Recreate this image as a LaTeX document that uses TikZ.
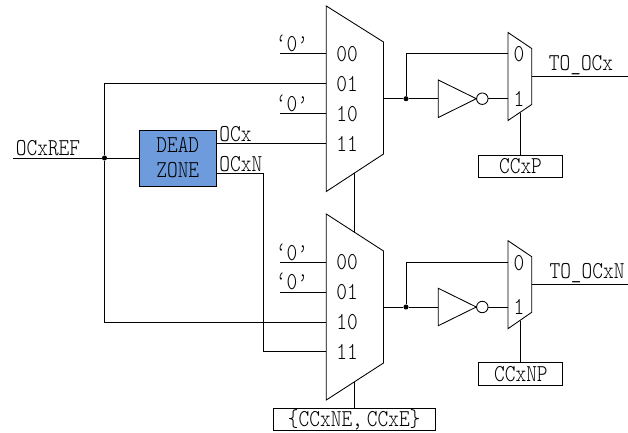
\documentclass[tikz,border=0pt]{standalone}
\usepackage{fontspec}
\usetikzlibrary{calc}
\setmonofont[FakeStretch=0.84]{Latin Modern Mono Light}
\definecolor{deadblue}{RGB}{109,155,219}

\begin{document}
\begin{tikzpicture}[x=0.75pt, y=-0.75pt, line width=0.65pt,
    font=\ttfamily\fontsize{18.2}{18.75}\selectfont,
    lbl/.style={inner sep=0pt},
    ctrlbox/.style={draw, inner sep=0pt, minimum height=16.7pt},
    dot/.style={circle, fill, inner sep=0pt, minimum size=3.8pt},
    bubble/.style={circle, draw, inner sep=0pt, minimum size=8.6pt}]
  \useasboundingbox (0,0) rectangle (628,432);

  % big selectors
  \draw (326.3,6) coordinate (muxatop) -- (383.5,42) -- (383.5,154) coordinate (muxasr) -- (326.3,191.5) coordinate (muxasl) -- cycle;
  \draw (326.3,214) -- (383.5,251) coordinate (muxbtr) -- (383.5,363) coordinate (muxbsr) -- (326.3,400) coordinate (muxbsl) -- cycle;
  \coordinate (linka) at ($(muxasl)!0.5!(muxasr)$);
  \coordinate (linkb) at (linka |- 0,232.5);
  \coordinate (selb) at ($(muxbsl)!0.5!(muxbsr)$);

  % small selectors
  \draw (508,32.5) -- (531.7,48.5) -- (531.7,104.5) -- (508,120.5) -- cycle;
  \draw (508,240.7) -- (531.7,256.7) -- (531.7,312.3) -- (508,328.7) -- cycle;

  % inverters
  \draw (438.3,80) -- (476.3,98.7) coordinate (invat) -- (438.3,117.5) -- cycle;
  \draw (438.3,288.3) -- (476.3,307) coordinate (invbt) -- (438.3,325.7) -- cycle;
  \node[bubble] (bubblea) at (482.3,98.7) {};
  \node[bubble] (bubbleb) at (482.3,307) {};

  % blocks
  \node[draw, fill=deadblue, minimum width=57.4pt, minimum height=42pt, inner sep=0pt, align=center] (dead) at (177.75,158) {DEAD\\ZONE};
  \node[ctrlbox, minimum width=63.3pt] (ccxp) at (520.5,166.5) {CCxP};
  \node[ctrlbox, minimum width=63pt] (ccxnp) at (520.9,373.8) {CCxNP};
  \node[ctrlbox, minimum width=121.3pt] (ccxe) at (354.2,419.5) {\spaceskip=3pt\{CCxNE, CCxE\}};

  % ports on the left
  \coordinate (zeroa) at (280,53.7);
  \coordinate (zerob) at (280,113.7);
  \coordinate (zeroc) at (280,262.3);
  \coordinate (zerod) at (280,292);
  \coordinate (ina0) at (326.3,53.7);
  \coordinate (ina1) at (326.3,83.7);
  \coordinate (ina2) at (326.3,113.7);
  \coordinate (ina3) at (326.3,143.5);
  \coordinate (inb0) at (326.3,262.3);
  \coordinate (inb1) at (326.3,292);
  \coordinate (inb2) at (326.3,322);
  \coordinate (inb3) at (326.3,351.7);
  \coordinate (refin) at (13,158);
  \node[dot] (joinref) at (104.5,158) {};
  \coordinate (deadx) at (dead.east |- ina3);
  \coordinate (deadn) at (dead.east |- 0,173);

  \draw (zeroa) -- (ina0);
  \draw (zerob) -- (ina2);
  \draw (zeroc) -- (inb0);
  \draw (zerod) -- (inb1);
  \draw (refin) -- (joinref) -- (dead.west);
  \draw (ina1) -| (joinref) |- (inb2);
  \draw (deadx) -- (ina3);
  \draw (deadn) -| (263.5,351.7) -- (inb3);
  \draw (linka) -- (linkb);
  \draw (selb) -- (ccxe.north -| selb);

  % ports on the right
  \coordinate (outa) at (383.5,98.7);
  \coordinate (outb) at (383.5,307);
  \node[dot] (joina) at (406,98.7) {};
  \node[dot] (joinb) at (406,307) {};
  \coordinate (sela0) at (508,53.7);
  \coordinate (sela1) at (508,98.7);
  \coordinate (selb0) at (508,262.3);
  \coordinate (selb1) at (508,307);
  \coordinate (inva) at (438.3,98.7);
  \coordinate (invb) at (438.3,307);

  \draw (outa) -- (joina) -- (inva);
  \draw (joina) |- (sela0);
  \draw (bubblea) -- (sela1);
  \draw (outb) -- (joinb) -- (invb);
  \draw (joinb) |- (selb0);
  \draw (bubbleb) -- (selb1);
  \draw (531.7,76.3) coordinate (toa) -- (627.5,76.3) coordinate (toaend);
  \draw (531.7,284.7) coordinate (tob) -- (627.5,284.7) coordinate (tobend);
  \draw (ccxp.north) -- (ccxp.north |- 0,112.5);
  \draw (ccxnp.north) -- (ccxnp.north |- 0,320.5);

  % labels
  \node[lbl] (qa) at (292,43) {‘0’};
  \node[lbl] (qb) at (292,103) {‘0’};
  \node[lbl] (qc) at (292,252) {‘0’};
  \node[lbl] (qd) at (292,281.5) {‘0’};
  \node[lbl] (la0) at (347,54) {00};
  \node[lbl] (la1) at (347,84) {01};
  \node[lbl] (la2) at (347,114) {10};
  \node[lbl] (la3) at (347,144) {11};
  \node[lbl] (lb0) at (347,262.5) {00};
  \node[lbl] (lb1) at (347,292) {01};
  \node[lbl] (lb2) at (347,322) {10};
  \node[lbl] (lb3) at (347,352) {11};
  \node[lbl] (sa0) at (519,54.5) {0};
  \node[lbl] (sa1) at (519,99) {1};
  \node[lbl] (sb0) at (519,263) {0};
  \node[lbl] (sb1) at (519,307) {1};
  \node[lbl] (ref) at (48,148) {OCxREF};
  \node[lbl, anchor=west] (ocx) at (219,134) {OCx};
  \node[lbl, anchor=west] (ocxn) at (219,164) {OCxN};
  \node[lbl] (toocx) at (581,65) {TO\_OCx};
  \node[lbl] (toocxn) at (587,273) {TO\_OCxN};
\end{tikzpicture}
\end{document}
